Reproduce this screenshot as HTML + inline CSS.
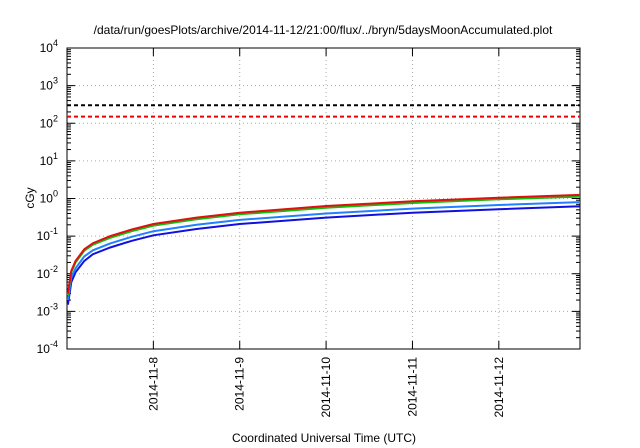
<!DOCTYPE html>
<html><head><meta charset="utf-8"><style>
html,body{margin:0;padding:0;background:#fff;}
svg{display:block;font-family:"Liberation Sans",sans-serif;}
</style></head><body>
<svg id="chart" width="640" height="448" viewBox="0 0 640 448">
<rect width="640" height="448" fill="#fff"/>
<text x="323" y="34" font-size="12" text-anchor="middle">/data/run/goesPlots/archive/2014-11-12/21:00/flux/../bryn/5daysMoonAccumulated.plot</text>
<g id="grid"></g><g id="axes"></g><g id="series"></g>
<text transform="translate(34,198) rotate(-90)" font-size="12" text-anchor="middle">cGy</text>
<text x="324" y="442" font-size="12" text-anchor="middle">Coordinated Universal Time (UTC)</text>
</svg>
<script>
const times=[0.01,0.05,0.1,0.2,0.3,0.5,0.75,1,1.5,2,3,4,5,5.94];
const redVals=[0.003,0.012,0.022,0.045,0.065,0.1,0.15,0.21,0.31,0.42,0.63,0.84,1.05,1.25];
const greenVals=[0.0027,0.011,0.02,0.041,0.059,0.09,0.135,0.19,0.28,0.38,0.57,0.76,0.95,1.12];
const lightBlueVals=[0.002,0.008,0.014,0.029,0.042,0.064,0.096,0.135,0.2,0.27,0.4,0.54,0.67,0.8];
const blueVals=[0.0015,0.006,0.011,0.022,0.033,0.05,0.075,0.105,0.155,0.21,0.31,0.42,0.52,0.62];
const thresholds=[300,150];
const xTickDays=[1,2,3,4,5];
const xTickLabels=["2014-11-8","2014-11-9","2014-11-10","2014-11-11","2014-11-12"];
const yExps=[-4,-3,-2,-1,0,1,2,3,4];
const L=67,R=580,T=48,B=349,XMAX=5.94;
const NS="http://www.w3.org/2000/svg";
function x(t){return L+(R-L)*t/XMAX;}
function y(v){return B-(Math.log10(v)+4)/8*(B-T);}
function mk(tag,attrs,parent){const e=document.createElementNS(NS,tag);for(const k in attrs)e.setAttribute(k,attrs[k]);document.getElementById(parent).appendChild(e);return e;}
yExps.forEach((e,i)=>{const yy=y(Math.pow(10,e));
 if(e>-4&&e<4){const g=mk('line',{x1:L,x2:R,y1:yy,y2:yy,stroke:'#aaa','stroke-dasharray':'1,3','stroke-width':1},'grid');
 
 }
 const t1=mk('line',{x1:L,x2:L+8,y1:yy,y2:yy,stroke:'#000'},'axes');
 
 
 mk('line',{x1:R-8,x2:R,y1:yy,y2:yy,stroke:'#000'},'axes');
 const tx=mk('text',{x:58,y:yy+4,'font-size':12,'text-anchor':'end'},'axes');
 
 
 tx.innerHTML='10<tspan dy="-6" font-size="9">'+e+'</tspan>';
 if(e<4){for(let m=2;m<10;m++){const ym=y(m*Math.pow(10,e));mk('line',{x1:L,x2:L+4,y1:ym,y2:ym,stroke:'#000'},'axes');mk('line',{x1:R-4,x2:R,y1:ym,y2:ym,stroke:'#000'},'axes');}}
});
xTickDays.forEach((d,i)=>{const xx=x(d);
 const g=mk('line',{x1:xx,x2:xx,y1:T,y2:B,stroke:'#aaa','stroke-dasharray':'1,3'},'grid');
 
 
 mk('line',{x1:xx,x2:xx,y1:B,y2:B-8,stroke:'#000'},'axes');
 mk('line',{x1:xx,x2:xx,y1:T,y2:T+8,stroke:'#000'},'axes');
 const tx=mk('text',{transform:'translate('+(xx+4)+','+(B+8)+') rotate(-90)','font-size':12,'text-anchor':'end'},'axes');
 
 
 tx.textContent=xTickLabels[i];
});
const frame=mk('rect',{x:L,y:T,width:R-L,height:B-T,fill:'none',stroke:'#000','stroke-width':1},'axes');


const thColors=['#000','#e00'];
thresholds.forEach((v,i)=>{const l=mk('line',{x1:L,x2:R,y1:y(v),y2:y(v),stroke:thColors[i],'stroke-width':2,'stroke-dasharray':'4,3'},'series');
 
 });
const series=[[blueVals,'#1010e0','blue-series'],[lightBlueVals,'#2080ff','light-blue-series'],[greenVals,'#10c010','green-series'],[redVals,'#e01010','red-series']];
series.forEach(([vals,c,n])=>{
 const d=vals.map((v,i)=>(i?'L':'M')+x(times[i]).toFixed(1)+','+y(v).toFixed(1)).join(' ');
 const p=mk('path',{d:d,fill:'none',stroke:c,'stroke-width':2},'series');
 
 
});
</script>
</body></html>
